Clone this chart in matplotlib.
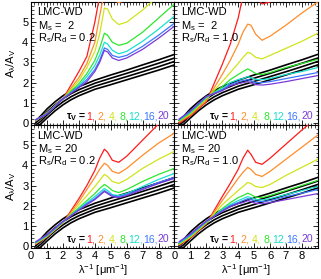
import numpy as np
import matplotlib
matplotlib.use("Agg")
import matplotlib.pyplot as plt
from matplotlib.ticker import MultipleLocator

plt.rcParams['font.family'] = ['Liberation Sans', 'DejaVu Sans']
plt.rcParams['mathtext.fontset'] = 'custom'
plt.rcParams['mathtext.rm'] = 'Liberation Sans'
plt.rcParams['mathtext.it'] = 'Liberation Sans:italic'
plt.rcParams['mathtext.bf'] = 'Liberation Sans:bold'
plt.rcParams['mathtext.default'] = 'regular'

# wavenumber grid of the colored curves (1/micron)
x = [0.3, 1, 2, 3, 3.5, 4, 4.3, 4.6, 4.8, 5.1, 5.5, 6, 7, 8, 9]

tau_v = ['1', '2', '4', '8', '12', '16', '20']
colors = ['#ff1a1a', '#ff8c2a', '#d0e41a', '#2ee62e', '#1ae0d0', '#3a78ff', '#7a3ad8']

# reference curves (black)
bx = [0.3, 0.6, 1, 1.5, 2, 2.5, 3, 4, 5, 6, 7, 8, 9]
black1 = [0.12, 0.35, 0.70, 1.05, 1.35, 1.60, 1.80, 2.12, 2.38, 2.62, 2.88, 3.13, 3.40]
black2 = [0.02, 0.22, 0.55, 0.90, 1.20, 1.45, 1.65, 1.97, 2.22, 2.46, 2.71, 2.96, 3.22]
black3 = [-0.10, 0.08, 0.40, 0.75, 1.05, 1.30, 1.50, 1.82, 2.06, 2.30, 2.54, 2.79, 3.05]
black4 = [-0.20, -0.05, 0.25, 0.60, 0.90, 1.15, 1.35, 1.67, 1.90, 2.14, 2.38, 2.62, 2.88]

# Ms = 2, Rs/Rd = 0.2
p1_tau1  = [0.10, 0.50, 1.20, 2.55, 3.30, 5.00, 6.30, 7.00, 7.00, 6.80, 6.60, 6.80, 7.40, 8.00, 8.60]
p1_tau2  = [0.12, 0.50, 1.20, 2.25, 2.95, 4.00, 5.30, 6.50, 6.40, 6.10, 5.97, 6.10, 6.60, 7.10, 7.60]
p1_tau4  = [0.13, 0.49, 1.20, 2.10, 2.75, 3.55, 4.40, 5.70, 5.65, 5.15, 4.88, 5.00, 5.60, 6.30, 6.90]
p1_tau8  = [0.14, 0.48, 1.20, 1.95, 2.45, 3.10, 3.70, 4.45, 4.35, 4.00, 3.85, 3.95, 4.50, 5.20, 5.90]
p1_tau12 = [0.15, 0.47, 1.20, 1.85, 2.30, 2.85, 3.35, 4.00, 3.92, 3.60, 3.43, 3.55, 4.05, 4.65, 5.30]
p1_tau16 = [0.16, 0.46, 1.20, 1.80, 2.15, 2.65, 3.10, 3.72, 3.65, 3.35, 3.25, 3.35, 3.80, 4.35, 4.95]
p1_tau20 = [0.17, 0.45, 1.20, 1.75, 2.05, 2.55, 3.00, 3.60, 3.52, 3.22, 3.10, 3.22, 3.65, 4.20, 4.80]

# Ms = 2, Rs/Rd = 1.0
p2_tau1  = [0.00, 0.35, 1.05, 2.90, 3.90, 5.20, 6.30, 7.00, 6.80, 6.30, 5.90, 6.00, 6.50, 7.00, 7.50]
p2_tau2  = [0.05, 0.40, 1.10, 2.40, 3.10, 3.90, 4.50, 4.90, 4.85, 4.40, 4.10, 4.30, 4.85, 5.45, 6.00]
p2_tau4  = [0.10, 0.45, 1.20, 2.05, 2.50, 2.95, 3.25, 3.50, 3.45, 3.25, 3.18, 3.35, 3.70, 4.05, 4.45]
p2_tau8  = [0.12, 0.50, 1.25, 1.80, 2.15, 2.40, 2.55, 2.68, 2.60, 2.45, 2.40, 2.50, 2.75, 2.95, 3.15]
p2_tau12 = [0.15, 0.55, 1.28, 1.70, 2.00, 2.15, 2.20, 2.30, 2.25, 2.15, 2.15, 2.20, 2.40, 2.55, 2.75]
p2_tau16 = [0.18, 0.58, 1.30, 1.65, 1.90, 2.05, 2.10, 2.15, 2.10, 2.00, 2.00, 2.05, 2.20, 2.35, 2.50]
p2_tau20 = [0.20, 0.60, 1.32, 1.60, 1.85, 1.95, 2.00, 2.05, 2.00, 1.90, 1.88, 1.92, 2.05, 2.20, 2.35]

# Ms = 20, Rs/Rd = 0.2
p3_tau1  = [0.10, 0.45, 1.15, 2.35, 3.00, 3.75, 4.35, 4.80, 4.65, 4.25, 4.15, 4.45, 5.25, 6.05, 6.80]
p3_tau2  = [0.12, 0.47, 1.15, 2.20, 2.80, 3.40, 3.80, 4.10, 4.00, 3.70, 3.60, 3.85, 4.50, 5.10, 5.60]
p3_tau4  = [0.14, 0.48, 1.15, 2.05, 2.50, 2.95, 3.25, 3.55, 3.45, 3.20, 3.10, 3.30, 3.85, 4.30, 4.70]
p3_tau8  = [0.16, 0.50, 1.18, 1.90, 2.25, 2.60, 2.85, 3.05, 2.95, 2.75, 2.65, 2.80, 3.20, 3.55, 3.85]
p3_tau12 = [0.18, 0.52, 1.20, 1.85, 2.15, 2.45, 2.65, 2.85, 2.75, 2.55, 2.50, 2.60, 2.95, 3.30, 3.60]
p3_tau16 = [0.20, 0.54, 1.20, 1.80, 2.10, 2.35, 2.55, 2.75, 2.65, 2.50, 2.45, 2.55, 2.85, 3.15, 3.40]
p3_tau20 = [0.22, 0.56, 1.22, 1.78, 2.05, 2.30, 2.50, 2.70, 2.60, 2.45, 2.40, 2.50, 2.80, 3.10, 3.35]

# Ms = 20, Rs/Rd = 1.0
p4_tau1  = [0.05, 0.40, 1.10, 2.45, 3.10, 3.80, 4.35, 4.75, 4.55, 4.15, 4.05, 4.35, 5.05, 5.75, 6.40]
p4_tau2  = [0.08, 0.43, 1.12, 2.25, 2.80, 3.35, 3.65, 3.90, 3.80, 3.55, 3.45, 3.70, 4.30, 4.90, 5.50]
p4_tau4  = [0.10, 0.46, 1.15, 2.05, 2.40, 2.75, 2.95, 3.15, 3.10, 2.95, 2.90, 3.05, 3.50, 3.90, 4.30]
p4_tau8  = [0.13, 0.50, 1.18, 1.85, 2.15, 2.40, 2.50, 2.62, 2.55, 2.42, 2.40, 2.50, 2.75, 3.00, 3.25]
p4_tau12 = [0.16, 0.53, 1.20, 1.80, 2.05, 2.25, 2.35, 2.45, 2.40, 2.30, 2.28, 2.35, 2.55, 2.75, 2.95]
p4_tau16 = [0.19, 0.56, 1.22, 1.75, 2.00, 2.15, 2.25, 2.35, 2.30, 2.22, 2.20, 2.25, 2.45, 2.62, 2.80]
p4_tau20 = [0.22, 0.60, 1.24, 1.72, 1.95, 2.10, 2.15, 2.25, 2.20, 2.12, 2.10, 2.15, 2.30, 2.45, 2.60]

panels = [
    ('M$_{s}$ =  2', 'R$_{s}$/R$_{d}$ = 0.2',
     [p1_tau1, p1_tau2, p1_tau4, p1_tau8, p1_tau12, p1_tau16, p1_tau20]),
    ('M$_{s}$ =  2', 'R$_{s}$/R$_{d}$ = 1.0',
     [p2_tau1, p2_tau2, p2_tau4, p2_tau8, p2_tau12, p2_tau16, p2_tau20]),
    ('M$_{s}$ = 20', 'R$_{s}$/R$_{d}$ = 0.2',
     [p3_tau1, p3_tau2, p3_tau4, p3_tau8, p3_tau12, p3_tau16, p3_tau20]),
    ('M$_{s}$ = 20', 'R$_{s}$/R$_{d}$ = 1.0',
     [p4_tau1, p4_tau2, p4_tau4, p4_tau8, p4_tau12, p4_tau16, p4_tau20]),
]

fs = 8
fs_leg = 7.5
fig, axes = plt.subplots(2, 2, figsize=(3.21, 2.79), dpi=100)
plt.subplots_adjust(left=0.097, right=0.99, top=0.993, bottom=0.111, wspace=0, hspace=0)

legend_texts = []
for i, ax in enumerate(axes.flat):
    ms_txt, r_txt, curves = panels[i]
    for b in [black1, black2, black3, black4]:
        ax.plot(bx, b, color='k', lw=1.2, zorder=2)
    for c, col in zip(curves, colors):
        ax.plot(x, c, color=col, lw=0.9, zorder=3)

    ax.set_xlim(0, 9)
    ax.set_ylim(-0.1, 6.0)
    ax.xaxis.set_major_locator(MultipleLocator(1))
    ax.xaxis.set_minor_locator(MultipleLocator(0.2))
    ax.yaxis.set_major_locator(MultipleLocator(1))
    ax.yaxis.set_minor_locator(MultipleLocator(0.2))
    ax.tick_params(which='both', direction='in', top=True, right=True, labelsize=fs, pad=2)
    ax.tick_params(which='major', length=3.5, width=0.6)
    ax.tick_params(which='minor', length=1.8, width=0.5)
    for s in ax.spines.values():
        s.set_linewidth(0.8)

    if i % 2 == 1:
        ax.set_yticklabels([])
    else:
        ax.set_yticks([0, 1, 2, 3, 4, 5])
        ax.set_ylabel('A$_{\\lambda}$/A$_{V}$', fontsize=fs, labelpad=3)
    if i < 2:
        ax.set_xticklabels([])
    else:
        ax.set_xticks([0, 1, 2, 3, 4, 5, 6, 7, 8])
        ax.set_xlabel('$\\lambda^{-1}$ [$\\mu$m$^{-1}$]', fontsize=fs, labelpad=1)

    ax.text(0.045, 0.955, 'LMC-WD', transform=ax.transAxes, fontsize=fs, va='top', ha='left')
    ax.text(0.045, 0.86, ms_txt, transform=ax.transAxes, fontsize=fs, va='top', ha='left')
    ax.text(0.045, 0.76, r_txt, transform=ax.transAxes, fontsize=fs, va='top', ha='left')

    # tau_V legend: coloured values chained left to right, label in front
    nums = []
    for j, (t, col) in enumerate(zip(tau_v, colors)):
        lab = t if j == len(tau_v) - 1 else t + ','
        nums.append((ax.text(0, 0.045, lab, color=col, fontsize=fs_leg, transform=ax.transAxes,
                             va='baseline', ha='left'), j < 3))
    head = ax.text(0, 0.045, '$\\mathbf{\\tau_{V}}$ =', color='k', fontsize=fs_leg,
                   transform=ax.transAxes, va='baseline', ha='right', fontweight='bold')
    legend_texts.append((ax, nums, head))

fig.canvas.draw()
renderer = fig.canvas.get_renderer()
for ax, nums, head in legend_texts:
    axw = ax.get_window_extent().width
    space = 2.5 / axw
    widths = [t.get_window_extent(renderer).width / axw + (space if gap else 0.0)
              for t, gap in nums]
    xpos = 0.965 - sum(widths)
    head.set_x(xpos)
    for (t, gap), w in zip(nums, widths):
        t.set_x(xpos)
        xpos += w

fig.savefig('out.png', dpi=100)
